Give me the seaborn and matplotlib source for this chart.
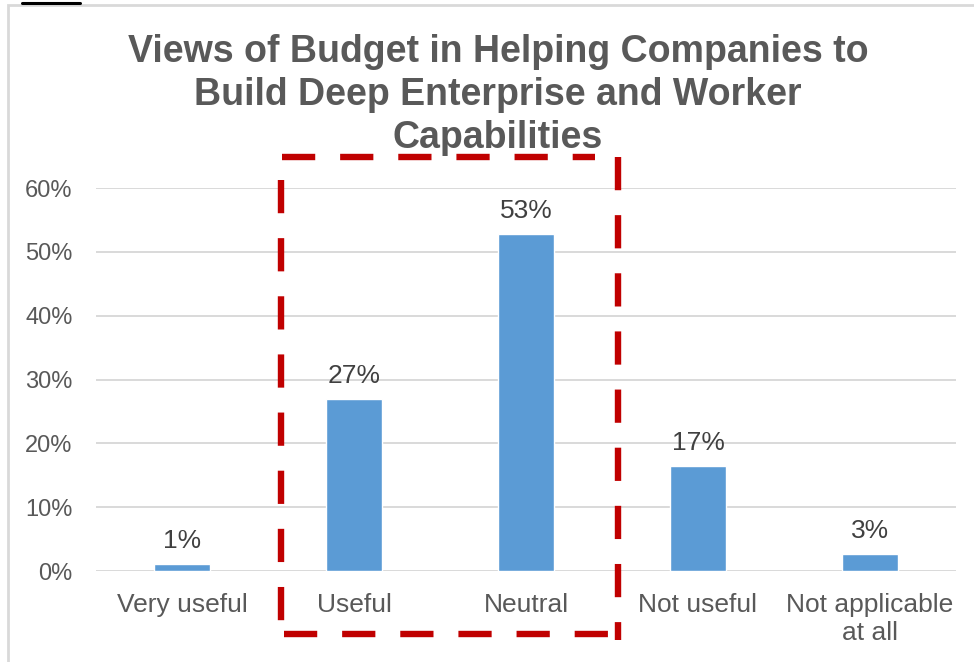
import matplotlib
matplotlib.use("Agg")
import matplotlib.pyplot as plt
from matplotlib.lines import Line2D
from matplotlib.patches import Rectangle
from matplotlib.ticker import FuncFormatter
import pandas as pd
import seaborn as sns

# data
categories = ["Very useful", "Useful", "Neutral", "Not useful", "Not applicable\nat all"]
shares = [0.011, 0.27, 0.528, 0.165, 0.027]
bar_labels = ["1%", "27%", "53%", "17%", "3%"]
title_lines = ["Views of Budget in Helping Companies to",
               "Build Deep Enterprise and Worker",
               "Capabilities"]

df = pd.DataFrame({"category": categories, "share": shares})

sns.set_theme(style="white")
plt.rcParams["font.family"] = ["Liberation Sans", "DejaVu Sans"]

W, H = 974, 662
fig = plt.figure(figsize=(W / 100, H / 100), dpi=100)

def fx(px):
    return px / W

def fy(py):
    return 1 - py / H

# outer chart frame (light grey)
fig.add_artist(Rectangle((fx(8), fy(700)), fx(1000), fy(5) - fy(700),
                         transform=fig.transFigure, fill=False,
                         edgecolor="#d9d9d9", lw=2))
# cut-off bit of the page above the chart
fig.add_artist(Line2D([fx(22), fx(80)], [fy(3), fy(3)], transform=fig.transFigure,
                      color="black", lw=2.2))

ax = fig.add_axes([fx(96), fy(571), fx(956) - fx(96), fy(188) - fy(571)])
sns.barplot(data=df, x="category", y="share", color="#5B9BD5", width=0.32,
            saturation=1, ax=ax, zorder=3)

ax.set_ylim(0, 0.6)
ax.set_xlim(-0.5, 4.5)
ax.set_yticks([0, 0.1, 0.2, 0.3, 0.4, 0.5, 0.6])
ax.yaxis.set_major_formatter(FuncFormatter(lambda v, _: f"{v:.0%}"))
ax.grid(axis="y", color="#d9d9d9", lw=1.4, zorder=0)
ax.set_xlabel("")
ax.set_ylabel("")
for s in ax.spines.values():
    s.set_visible(False)
ax.tick_params(axis="both", length=0, labelcolor="#595959")
ax.tick_params(axis="x", pad=15.5, labelsize=19)
ax.tick_params(axis="y", pad=17, labelsize=17)
for t in ax.get_xticklabels():
    t.set_linespacing(1.25)
ax.set_facecolor("none")

for i, (v, lab) in enumerate(zip(shares, bar_labels)):
    ax.annotate(lab, (i, v), xytext=(0, 8), textcoords="offset points",
                ha="center", va="bottom", fontsize=19, color="#404040")

for line, base in zip(title_lines, [62, 105, 148]):
    fig.text(fx(498), fy(base), line, ha="center", va="baseline", fontsize=27,
             fontweight="bold", color="#595959")

# red dashed highlight box
red = "#C00000"
dash = dict(transform=fig.transFigure, color=red, lw=4.6, solid_capstyle="butt",
            dash_capstyle="butt", linestyle=(0, (5.2, 3.9)))
fig.add_artist(Line2D([fx(282), fx(595)], [fy(157), fy(157)], **dash))
fig.add_artist(Line2D([fx(281), fx(281)], [fy(180), fy(632)], **dash))
fig.add_artist(Line2D([fx(284), fx(612)], [fy(634), fy(634)], **dash))
fig.add_artist(Line2D([fx(618), fx(618)], [fy(157), fy(640)], **dash))

fig.savefig("out.png", dpi=100)
